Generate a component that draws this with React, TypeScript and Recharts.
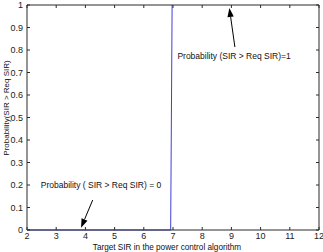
import { LineChart, Line, XAxis, YAxis, ReferenceLine, ReferenceDot } from "recharts";

const sirTargets = [2, 6.92, 6.97];
const probability = [0, 0, 1];

const xTicks = [2, 3, 4, 5, 6, 7, 8, 9, 10, 11, 12];
const yTicks = [0, 0.1, 0.2, 0.3, 0.4, 0.5, 0.6, 0.7, 0.8, 0.9, 1];

const noteTexts = ["Probability (SIR > Req SIR)=1", "Probability ( SIR > Req SIR) = 0"];
const notePos = [
  [7.15, 0.775],
  [2.47, 0.2],
];
const arrowFrom = [
  [9.12, 0.813],
  [4.25, 0.133],
];
const arrowTo = [
  [8.93, 0.987],
  [3.85, 0.01],
];

const FONT = "'Liberation Sans', Arial, sans-serif";
const AXIS = "#2a2a2a";

const data = sirTargets.map((x, i) => ({ x, p: probability[i] }));

const Arrow = (props: any) => {
  const { x1, y1, x2, y2 } = props;
  const dx = x2 - x1;
  const dy = y2 - y1;
  const len = Math.sqrt(dx * dx + dy * dy) || 1;
  const ux = dx / len;
  const uy = dy / len;
  const hl = 9;
  const hw = 3.2;
  const bx = x2 - ux * hl;
  const by = y2 - uy * hl;
  const pts = `${x2},${y2} ${bx - uy * hw},${by + ux * hw} ${bx + uy * hw},${by - ux * hw}`;
  return (
    <g>
      <line x1={x1} y1={y1} x2={bx} y2={by} stroke="#000" strokeWidth={1} />
      <polygon points={pts} fill="#000" />
    </g>
  );
};

const noteShape = (text: string) => (props: any) => (
  <text
    x={props.cx}
    y={props.cy}
    dy="0.35em"
    fontSize={8.5}
    fontFamily={FONT}
    fill="#111"
  >
    {text}
  </text>
);

const tickStyle = { fontSize: 9, fontFamily: FONT, fill: "#222" };

export default function App() {
  return (
    <div style={{ position: "absolute", left: 0, top: 0 }}>
      <LineChart
        width={323}
        height={252}
        data={data}
        margin={{ top: 4, right: 3, bottom: 0, left: 0 }}
      >
        <XAxis
          dataKey="x"
          type="number"
          domain={[2, 12]}
          ticks={xTicks}
          height={22}
          stroke={AXIS}
          tickSize={-3}
          tickMargin={6}
          tick={tickStyle}
          interval={0}
          label={{
            content: () => (
              <text x={167} y={249.5} textAnchor="middle" fontSize={8.2} fontFamily={FONT} fill="#111">
                Target SIR in the power control algorithm
              </text>
            ),
          }}
        />
        <XAxis
          xAxisId="top"
          dataKey="x"
          orientation="top"
          type="number"
          domain={[2, 12]}
          ticks={xTicks}
          height={1}
          stroke={AXIS}
          tickSize={-3}
          tick={() => null}
          interval={0}
        />
        <YAxis
          type="number"
          domain={[0, 1]}
          ticks={yTicks}
          width={27}
          stroke={AXIS}
          tickSize={-3}
          tickMargin={7}
          tick={tickStyle}
          interval={0}
          label={{
            content: () => (
              <text
                x={6}
                y={108}
                transform="rotate(-90 6 108)"
                textAnchor="middle"
                dy="0.35em"
                fontSize={8}
                fontFamily={FONT}
                fill="#111"
              >
                Probability(SIR &gt; Req SIR)
              </text>
            ),
          }}
        />
        <YAxis
          yAxisId="right"
          orientation="right"
          type="number"
          domain={[0, 1]}
          ticks={yTicks}
          width={1}
          stroke={AXIS}
          tickSize={-3}
          tick={() => null}
          interval={0}
        />
        <Line
          xAxisId="top"
          yAxisId="right"
          type="linear"
          dataKey="p"
          stroke="none"
          dot={false}
          legendType="none"
          isAnimationActive={false}
        />
        <Line
          type="linear"
          dataKey="p"
          stroke="#4040d8"
          strokeWidth={1}
          dot={false}
          isAnimationActive={false}
        />
        {noteTexts.map((t, i) => (
          <ReferenceLine
            key={"a" + i}
            segment={[
              { x: arrowFrom[i][0], y: arrowFrom[i][1] },
              { x: arrowTo[i][0], y: arrowTo[i][1] },
            ]}
            ifOverflow="visible"
            shape={Arrow}
          />
        ))}
        {noteTexts.map((t, i) => (
          <ReferenceDot
            key={"t" + i}
            x={notePos[i][0]}
            y={notePos[i][1]}
            r={0}
            ifOverflow="visible"
            shape={noteShape(t)}
          />
        ))}
      </LineChart>
    </div>
  );
}
